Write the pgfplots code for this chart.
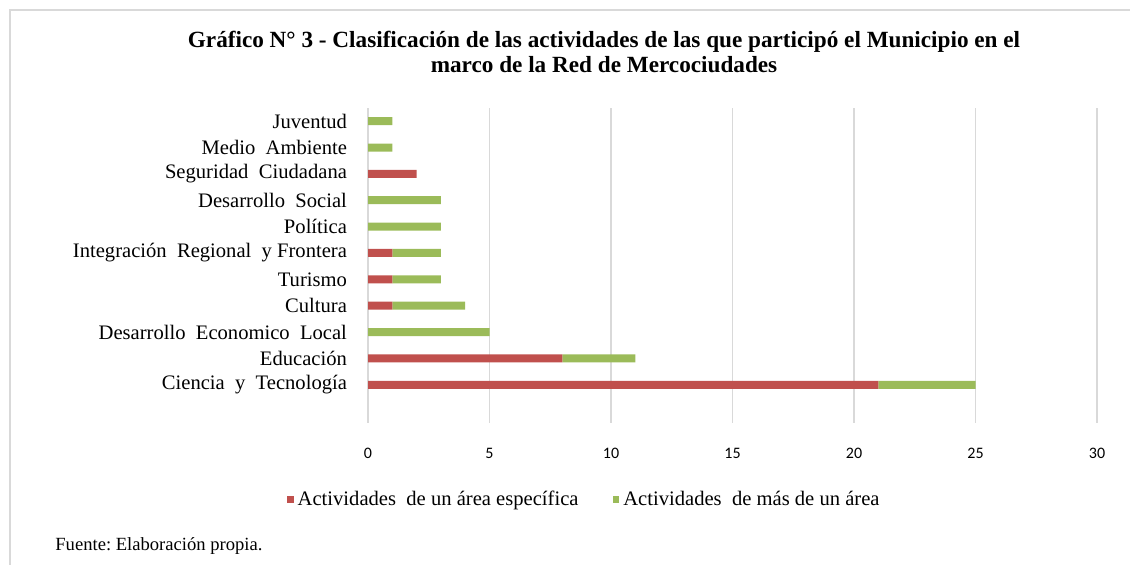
\documentclass[border=0pt]{standalone}
\usepackage{pgfplots}
\pgfplotsset{compat=1.18}
\usepackage{fontspec}
\setmainfont{Liberation Serif}
\newfontfamily\carl{Carlito}
\definecolor{cred}{HTML}{C0504D}
\definecolor{cgreen}{HTML}{9BBB59}
\definecolor{cgrid}{HTML}{D9D9D9}
\begin{document}
\begin{tikzpicture}
\path[use as bounding box] (0,0) rectangle (565pt,282.5pt);
\draw[cgrid, line width=0.8pt] (5pt,0) -- (5pt,277.5pt) -- (565pt,277.5pt);
\node[align=center, font=\fontsize{11.6}{12.2}\selectfont\bfseries] at (302pt,256.5pt)
  {Gráfico N° 3 - Clasificación de las actividades de las que participó el Municipio en el\\ marco de la Red de Mercociudades};
\node[anchor=west, font=\fontsize{9.3}{11}\selectfont, inner sep=0pt] at (27.5pt,9.5pt) {Fuente:\ Elaboración propia.};
\begin{axis}[
  at={(184pt,71pt)}, anchor=south west,
  scale only axis, width=364.5pt, height=157.5pt,
  xbar stacked, bar width=4pt,
  xmin=0, xmax=30, ymin=-1.45, ymax=10.5,
  xtick={0,5,...,30},
  ytick={0,...,10},
  yticklabels={Ciencia\ \ y\ \ Tecnología, Educación\ , Desarrollo\ \ Economico\ \ Local, Cultura, Turismo, Integración\ \ Regional\ \ y Frontera, Política, Desarrollo\ \ Social, Seguridad\ \ Ciudadana, Medio\ \ Ambiente, Juventud},
  yticklabel style={font=\fontsize{10.3}{11}\selectfont, xshift=-7pt},
  xticklabel style={font=\carl\fontsize{8}{9}\selectfont, yshift=-9pt},
  /pgf/number format/assume math mode=true,
  major tick length=0pt,
  axis line style={draw=none},
  xmajorgrids, grid style={cgrid, line width=0.6pt},
  legend style={at={(0.298,-0.244)}, anchor=center, draw=none, fill=none,
    legend columns=2, font=\fontsize{10.3}{11}\selectfont,
    /tikz/every even column/.append style={column sep=15pt}},
  legend image code/.code={\fill[#1] (2pt,-1.7pt) rectangle (5.4pt,1.7pt);},
]
\addplot[fill=cred, draw=none] coordinates {
(21,0) (8,1) (0,2) (1,3) (1,4) (1,5) (0,6) (0,7) (2,8) (0,9) (0,10)};
\addplot[fill=cgreen, draw=none] coordinates {
(4,0) (3,1) (5,2) (3,3) (2,4) (2,5) (3,6) (3,7) (0,8) (1,9) (1,10)};
\legend{Actividades\ \ de un área específica, Actividades\ \ de más de un área}
\end{axis}
\end{tikzpicture}
\end{document}
